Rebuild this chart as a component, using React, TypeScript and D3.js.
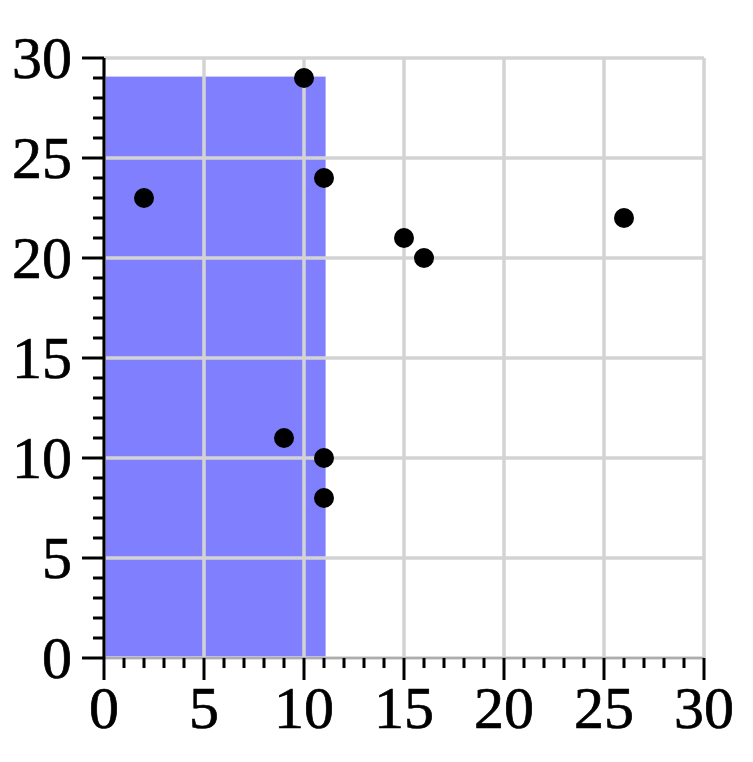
import React from "react";
import * as d3 from "d3";

// scatter points
const pointX = [2, 10, 11, 15, 16, 26, 9, 11, 11];
const pointY = [23, 29, 24, 21, 20, 22, 11, 10, 8];

// shaded region (data units)
const regionX = [0, 11.08];
const regionY = [0, 29.07];

const majorTicks = [0, 5, 10, 15, 20, 25, 30];
const minorTicks = d3.range(0, 31).filter((v) => v % 5 !== 0);

const App = () => {
  const x = d3.scaleLinear().domain([0, 30]).range([104, 704]);
  const y = d3.scaleLinear().domain([0, 30]).range([658, 58]);

  const grid = "#d3d3d3";
  const font = "'Liberation Serif', 'Times New Roman', serif";

  return (
    <svg
      width={753}
      height={762}
      style={{ position: "absolute", left: 0, top: 0, background: "#fff" }}
    >
      {/* shaded region */}
      <rect
        x={x(regionX[0])}
        y={y(regionY[1])}
        width={x(regionX[1]) - x(regionX[0])}
        height={y(regionY[0]) - y(regionY[1])}
        fill="#8080ff"
      />

      {/* grid lines */}
      <g stroke={grid} strokeWidth={3.5}>
        {majorTicks.map((t) => (
          <line key={"gx" + t} x1={x(t)} x2={x(t)} y1={y(0)} y2={y(30)} />
        ))}
        {majorTicks.map((t) => (
          <line key={"gy" + t} x1={x(0)} x2={x(30)} y1={y(t)} y2={y(t)} />
        ))}
      </g>

      {/* x axis */}
      <line x1={x(0)} x2={x(30)} y1={y(0)} y2={y(0)} stroke="#a0a0a0" strokeWidth={1.5} />
      <g stroke="#000" strokeWidth={3}>
        {majorTicks.map((t) => (
          <line key={"xt" + t} x1={x(t)} x2={x(t)} y1={y(0)} y2={y(0) + 22} />
        ))}
        {minorTicks.map((t) => (
          <line key={"xm" + t} x1={x(t)} x2={x(t)} y1={y(0)} y2={y(0) + 10} />
        ))}
      </g>
      {majorTicks.map((t) => (
        <text
          key={"xl" + t}
          x={x(t)}
          y={728}
          textAnchor="middle"
          fontFamily={font}
          fontSize={60}
          fill="#000"
          stroke="#000"
          strokeWidth={0.7}
        >
          {t}
        </text>
      ))}

      {/* y axis */}
      <g stroke="#000" strokeWidth={3}>
        <line x1={x(0)} x2={x(0)} y1={y(0)} y2={y(30)} />
        {majorTicks.map((t) => (
          <line key={"yt" + t} x1={x(0) - 22} x2={x(0)} y1={y(t)} y2={y(t)} />
        ))}
        {minorTicks.map((t) => (
          <line key={"ym" + t} x1={x(0) - 11} x2={x(0)} y1={y(t)} y2={y(t)} />
        ))}
      </g>
      {majorTicks.map((t) => (
        <text
          key={"yl" + t}
          x={72}
          y={y(t) + 20}
          textAnchor="end"
          fontFamily={font}
          fontSize={60}
          fill="#000"
          stroke="#000"
          strokeWidth={0.7}
        >
          {t}
        </text>
      ))}

      {/* points */}
      {pointX.map((px, i) => (
        <circle key={i} cx={x(px)} cy={y(pointY[i])} r={10} fill="#000" />
      ))}
    </svg>
  );
};

export default App;
